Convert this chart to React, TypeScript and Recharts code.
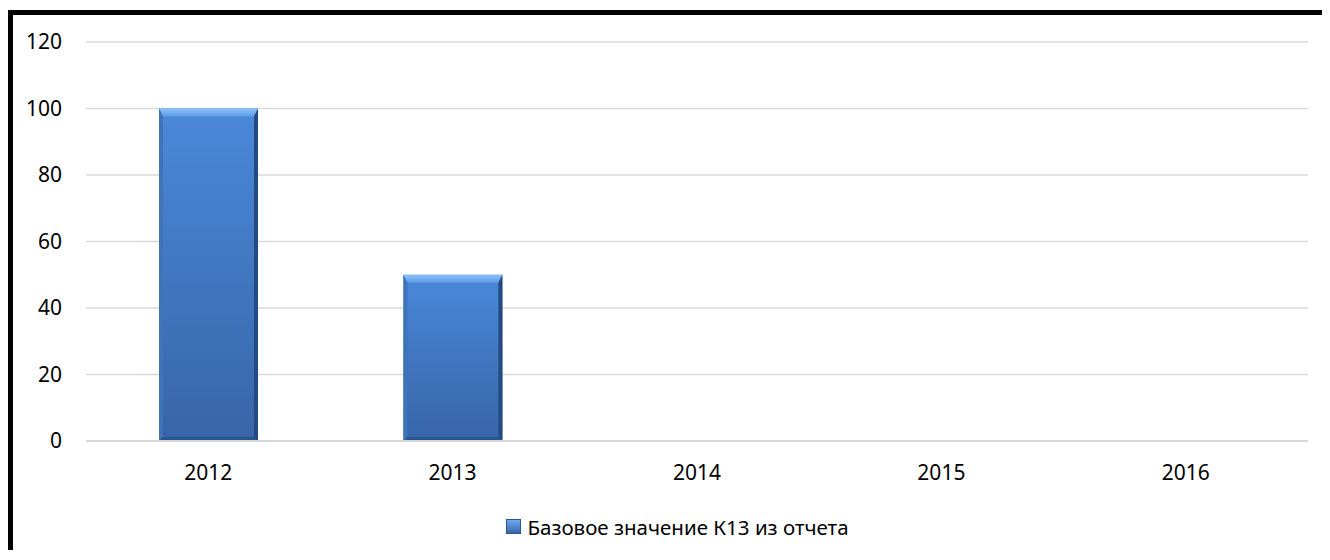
import { BarChart, Bar, XAxis, YAxis, CartesianGrid, Legend } from "recharts";

const years = ["2012", "2013", "2014", "2015", "2016"];
const baseValues = [100, 50, null, null, null];
const yTicks = [0, 20, 40, 60, 80, 100, 120];
const seriesName = "Базовое значение К13 из отчета";

const data = years.map((year, i) => ({ year, base: baseValues[i] }));

const FONT = "'Noto Sans', 'Open Sans', sans-serif";

// Excel-style bevelled bar
function BevelBar(props: any) {
  const { x, y, width: w, height: h } = props;
  if (!h || h <= 0) return null;
  const bt = 8;
  const bs = 4;
  const bb = 4;
  return (
    <g>
      <rect x={x} y={y} width={w} height={h} fill="url(#barBody)" />
      <polygon points={`${x},${y} ${x + w},${y} ${x + w - bs},${y + bt} ${x + bs},${y + bt}`} fill="url(#barTop)" />
      <polygon points={`${x},${y} ${x + bs},${y + bt} ${x + bs},${y + h - bb} ${x},${y + h}`} fill="#3f74bb" />
      <polygon points={`${x + w},${y} ${x + w},${y + h} ${x + w - bs},${y + h - bb} ${x + w - bs},${y + bt}`} fill="#234a82" />
      <polygon points={`${x},${y + h} ${x + bs},${y + h - bb} ${x + w - bs},${y + h - bb} ${x + w},${y + h}`} fill="#2b5590" />
    </g>
  );
}

function LegendContent() {
  return (
    <div style={{ height: 51, display: "flex", alignItems: "center", justifyContent: "center", paddingLeft: 34, fontFamily: FONT, fontSize: 20.5, color: "#000" }}>
      <span style={{ width: 13, height: 13, marginRight: 6, background: "linear-gradient(#6ea8ec, #3866aa)", border: "1px solid #2b5590", display: "inline-block" }} />
      <span>{seriesName}</span>
    </div>
  );
}

export default function App() {
  return (
    <div style={{ position: "relative", top: 2, borderTop: "5px solid #000", borderLeft: "5px solid #000", width: 1309, height: 537, background: "#fff" }}>
      <BarChart width={1309} height={537} data={data} margin={{ top: 27, right: 14, bottom: 0, left: 0 }}>
        <defs>
          <linearGradient id="barBody" x1="0" y1="0" x2="0" y2="1">
            <stop offset="0%" stopColor="#4a89d9" />
            <stop offset="100%" stopColor="#3865a8" />
          </linearGradient>
          <linearGradient id="barTop" x1="0" y1="0" x2="0" y2="1">
            <stop offset="0%" stopColor="#8ec2f5" />
            <stop offset="100%" stopColor="#5a9be6" />
          </linearGradient>
        </defs>
        <CartesianGrid vertical={false} stroke="#d9d9d9" strokeWidth={1.5} />
        <XAxis
          dataKey="year"
          height={60}
          axisLine={{ stroke: "#d9d9d9", strokeWidth: 2 }}
          tickLine={false}
          tickMargin={18}
          tick={{ fontSize: 21, fill: "#000", fontFamily: FONT }}
        />
        <YAxis
          width={73}
          domain={[0, 120]}
          ticks={yTicks}
          axisLine={false}
          tickLine={false}
          tickMargin={18}
          tick={{ fontSize: 21, fill: "#000", fontFamily: FONT }}
        />
        <Legend verticalAlign="bottom" content={<LegendContent />} />
        <Bar dataKey="base" name={seriesName} barSize={99} shape={<BevelBar />} isAnimationActive={false} />
      </BarChart>
    </div>
  );
}
